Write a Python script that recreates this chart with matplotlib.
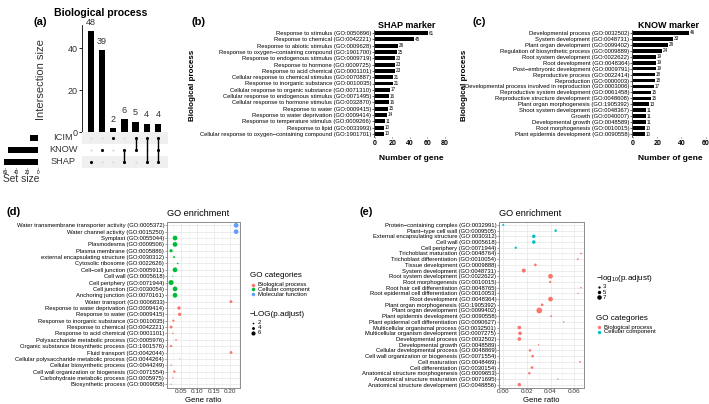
import matplotlib.pyplot as plt
import numpy as np

plt.rcParams['font.family'] = ['Liberation Sans', 'DejaVu Sans']
plt.rcParams['mathtext.default'] = 'regular'

W, H = 709, 404

# ---------------- data ----------------
# (a) upset plot
set_names = ['SHAP', 'KNOW', 'ICIM']          # bottom to top
set_sizes = [62, 54, 15]
inter_sizes = [48, 39, 2, 6, 5, 4, 4]
inter_members = [['SHAP'], ['KNOW'], ['ICIM'], ['KNOW', 'SHAP'],
                 ['ICIM', 'KNOW'], ['ICIM', 'SHAP'], ['ICIM', 'KNOW', 'SHAP']]

# (b) SHAP marker
shap_terms = ['Response to stimulus (GO:0050896)', 'Response to chemical (GO:0042221)',
              'Response to abiotic stimulus (GO:0009628)',
              'Response to oxygen\u2212containing compound (GO:1901700)',
              'Response to endogenous stimulus (GO:0009719)', 'Response to hormone (GO:0009725)',
              'Response to acid chemical (GO:0001101)',
              'Cellular response to chemical stimulus (GO:0070887)',
              'Response to inorganic substance (GO:0010035)',
              'Cellular response to organic substance (GO:0071310)',
              'Cellular response to endogenous stimulus (GO:0071495)',
              'Cellular response to hormone stimulus (GO:0032870)',
              'Response to water (GO:0009415)', 'Response to water deprivation (GO:0009414)',
              'Response to temperature stimulus (GO:0009266)', 'Response to lipid (GO:0033993)',
              'Cellular response to oxygen\u2212containing compound (GO:1901701)']
shap_counts = [61, 45, 26, 25, 23, 23, 23, 21, 21, 17, 16, 16, 15, 14, 11, 10, 10]

# (c) KNOW marker
know_terms = ['Developmental process (GO:0032502)', 'System development (GO:0048731)',
              'Plant organ development (GO:0099402)',
              'Regulation of biosynthetic process (GO:0009889)',
              'Root system development (GO:0022622)', 'Root development (GO:0048364)',
              'Post\u2212embryonic development (GO:0009791)', 'Reproductive process (GO:0022414)',
              'Reproduction (GO:0000003)',
              'Developmental process involved in reproduction (GO:0003006)',
              'Reproductive system development (GO:0061458)',
              'Reproductive structure development (GO:0048608)',
              'Plant organ morphogenesis (GO:1905392)', 'Shoot system development (GO:0048367)',
              'Growth (GO:0040007)', 'Developmental growth (GO:0048589)',
              'Root morphogenesis (GO:0010015)', 'Plant epidermis development (GO:0090558)']
know_counts = [46, 33, 29, 24, 19, 19, 19, 18, 18, 17, 15, 15, 13, 11, 11, 11, 10, 10]

# (d) GO enrichment, SHAP
d_terms = ['Water transmembrane transporter activity (GO:0005372)',
           'Water channel activity (GO:0015250)', 'Symplast (GO:0055044)',
           'Plasmodesma (GO:0009506)', 'Plasma membrane (GO:0005886)',
           'external encapsulating structure (GO:0030312)', 'Cytosolic ribosome (GO:0022626)',
           'Cell\u2212cell junction (GO:0005911)', 'Cell wall (GO:0005618)',
           'Cell periphery (GO:0071944)', 'Cell junction (GO:0030054)',
           'Anchoring junction (GO:0070161)', 'Water transport (GO:0006833)',
           'Response to water deprivation (GO:0009414)', 'Response to water (GO:0009415)',
           'Response to inorganic substance (GO:0010035)', 'Response to chemical (GO:0042221)',
           'Response to acid chemical (GO:0001101)',
           'Polysaccharide metabolic process (GO:0005976)',
           'Organic substance biosynthetic process (GO:1901576)',
           'Fluid transport (GO:0042044)',
           'Cellular polysaccharide metabolic process (GO:0044264)',
           'Cellular biosynthetic process (GO:0044249)',
           'Cell wall organization or biogenesis (GO:0071554)',
           'Carbohydrate metabolic process (GO:0005975)', 'Biosynthetic process (GO:0009058)']
d_ratio = [0.217, 0.217, 0.032, 0.032, 0.020, 0.029, 0.040, 0.032, 0.025, 0.020, 0.032, 0.032,
           0.2015, 0.044, 0.046, 0.027, 0.020, 0.025, 0.035, 0.020, 0.2015, 0.0465, 0.020,
           0.030, 0.025, 0.020]
d_logp = [7, 7, 7, 7, 4.5, 2.5, 2, 7, 1, 7.5, 7, 7, 4, 4.8, 4.8, 3, 4, 1.7, 2, 3, 4, 1,
          1.7, 3.2, 1.4, 1.4]
d_cat = ['MF', 'MF'] + ['CC'] * 10 + ['BP'] * 14

# (e) GO enrichment, KNOW
e_terms = ['Protein\u2212containing complex (GO:0032991)', 'Plant\u2212type cell wall (GO:0009505)',
           'External encapsulating structure (GO:0030312)', 'Cell wall (GO:0005618)',
           'Cell periphery (GO:0071944)', 'Trichoblast maturation (GO:0048764)',
           'Trichoblast differentiation (GO:0010054)', 'Tissue development (GO:0009888)',
           'System development (GO:0048731)', 'Root system development (GO:0022622)',
           'Root morphogenesis (GO:0010015)', 'Root hair cell differentiation (GO:0048765)',
           'Root epidermal cell differentiation (GO:0010053)', 'Root development (GO:0048364)',
           'Plant organ morphogenesis (GO:1905392)', 'Plant organ development (GO:0099402)',
           'Plant epidermis development (GO:0090558)',
           'Plant epidermal cell differentiation (GO:0090627)',
           'Multicellular organismal process (GO:0032501)',
           'Multicellular organism development (GO:0007275)',
           'Developmental process (GO:0032502)', 'Developmental growth (GO:0048589)',
           'Cellular developmental process (GO:0048869)',
           'Cell wall organization or biogenesis (GO:0071554)', 'Cell maturation (GO:0048469)',
           'Cell differentiation (GO:0030154)', 'Anatomical structure morphogenesis (GO:0009653)',
           'Anatomical structure maturation (GO:0071695)',
           'Anatomical structure development (GO:0048856)']
e_ratio = [0.0005, 0.0443, 0.026, 0.026, 0.0109, 0.0655, 0.0628, 0.0273, 0.0176, 0.040,
           0.0397, 0.0655, 0.063, 0.040, 0.033, 0.0306, 0.0405, 0.051, 0.0139, 0.0145,
           0.0139, 0.030, 0.0228, 0.025, 0.0647, 0.0245, 0.0223, 0.046, 0.0139]
e_logp = [2.5, 3.4, 5.2, 5.2, 3, 2, 2, 3.7, 6.1, 7.4, 2.8, 1.6, 1.2, 7.4, 3.7, 9.2, 2.1, 1.6,
          5.5, 5.5, 5.5, 1.2, 3.4, 3.7, 2, 3.7, 3.4, 1.4, 5.2]
e_cat = ['CC'] * 5 + ['BP'] * 24

d_colors = {'BP': '#F8766D', 'CC': '#00BA38', 'MF': '#619CFF'}
e_colors = {'BP': '#F8766D', 'CC': '#00BFC4'}


def box(x0, y0, x1, y1):
    return [x0 / W, 1 - y1 / H, (x1 - x0) / W, (y1 - y0) / H]


def dot_area(v, a, b):
    d_px = a + b * np.asarray(v)
    return (d_px * 0.72) ** 2


fig = plt.figure(figsize=(W / 100, H / 100), dpi=100)

# ---------------- (a) ----------------
ax = fig.add_axes(box(82, 25, 168, 132))
xs = np.arange(len(inter_sizes))
ax.bar(xs, inter_sizes, width=0.57, color='black')
for x, v in zip(xs, inter_sizes):
    ax.text(x, v + 2, str(v), ha='center', va='bottom', fontsize=6.5, color='#333333')
ax.set_xlim(-0.8, 6.9)
ax.set_ylim(0, 51)
for s in ['top', 'right', 'bottom']:
    ax.spines[s].set_visible(False)
ax.spines['left'].set_linewidth(0.6)
ax.set_xticks([])
ax.set_yticks([0, 20, 40])
ax.tick_params(axis='y', labelsize=6.5, length=2, width=0.6, pad=1, labelcolor='#333333')

axm = fig.add_axes(box(82, 132, 168, 168))
axm.axhspan(-0.5, 0.5, color='#f0f0f0', lw=0)
axm.axhspan(1.5, 2.5, color='#f0f0f0', lw=0)
gx, gy = np.meshgrid(xs, np.arange(3))
axm.scatter(gx.ravel(), gy.ravel(), s=3, color='#dcdcdc', lw=0)
for x, mem in zip(xs, inter_members):
    ys = [set_names.index(m) for m in mem]
    if len(ys) > 1:
        axm.plot([x, x], [min(ys), max(ys)], color='black', lw=1)
    axm.scatter([x] * len(ys), ys, s=5, color='black', lw=0, zorder=3)
axm.set_xlim(-0.8, 6.9)
axm.set_ylim(-0.5, 2.5)
axm.axis('off')

axs = fig.add_axes(box(0, 132, 38, 168))
axs.barh(np.arange(3), set_sizes, height=0.55, color='black')
axs.set_xlim(69, 0)
axs.set_ylim(-0.5, 2.5)
for s in ['top', 'right', 'left', 'bottom']:
    axs.spines[s].set_visible(False)
axs.set_yticks([])
axs.set_xticks([0, 20, 40, 60])
axs.tick_params(axis='x', labelsize=3.3, length=0.8, width=0.4, pad=0.3)

# ---------------- (b) and (c) ----------------
def hbar(rect, terms, counts, xlim, xticks):
    a = fig.add_axes(rect)
    y = np.arange(len(terms))
    a.barh(y, counts, height=0.62, color='black')
    for yi, v in zip(y, counts):
        a.text(v + 0.8 * (xlim[1] - xlim[0]) / 80, yi, str(v), va='center', fontsize=3.3)
    a.set_ylim(len(terms) - 0.5, -0.5)
    a.set_xlim(*xlim)
    a.set_yticks(y, terms)
    a.set_xticks(xticks)
    for s in ['top', 'right', 'bottom']:
        a.spines[s].set_visible(False)
    a.spines['left'].set_linewidth(0.5)
    a.tick_params(axis='y', labelsize=4.2, length=1.2, width=0.4, pad=0.8)
    a.tick_params(axis='x', labelsize=5, length=1, width=0.4, pad=1.5)
    for t in a.get_xticklabels():
        t.set_fontweight('bold')
    return a


hbar(box(374, 30, 447, 137), shap_terms, shap_counts, (-1.14, 82.3), [0, 20, 40, 60, 80])
hbar(box(632, 30, 709, 137), know_terms, know_counts, (-0.83, 62.7), [0, 20, 40, 60])

# ---------------- (d) and (e) ----------------
def dotplot(rect, terms, ratio, logp, cats, colors, xlim, xticks, xlabels, minor, size_ab):
    a = fig.add_axes(rect)
    y = np.arange(len(terms))
    a.scatter(ratio, y, s=dot_area(logp, *size_ab), c=[colors[c] for c in cats], lw=0, zorder=3)
    a.set_ylim(len(terms) - 0.45, -0.6)
    a.set_xlim(*xlim)
    a.set_yticks(y, terms)
    a.set_xticks(xticks, xlabels)
    a.set_xticks(minor, minor=True)
    a.grid(True, which='major', color='#e6e6e6', lw=0.5)
    a.grid(True, which='minor', axis='x', color='#f2f2f2', lw=0.4)
    a.set_axisbelow(True)
    for s in a.spines.values():
        s.set_color('#8c8c8c')
        s.set_linewidth(0.7)
    a.tick_params(axis='y', labelsize=4.2, length=1.2, width=0.4, pad=0.8, color='#555555')
    a.tick_params(axis='x', labelsize=4.6, length=1, width=0.4, pad=0, color='#555555',
                  labelcolor='#333333')
    a.tick_params(which='minor', length=0)
    return a


dotplot(box(167, 221.5, 240, 387.8), d_terms, d_ratio, d_logp, d_cat, d_colors,
        (0.0076, 0.2288), [0.05, 0.10, 0.15, 0.20], ['0.05', '0.10', '0.15', '0.20'],
        [0.025, 0.075, 0.125, 0.175, 0.225], (0.4, 0.62))
dotplot(box(499, 221.5, 584, 387.8), e_terms, e_ratio, e_logp, e_cat, e_colors,
        (-0.0031, 0.068), [0, 0.02, 0.04, 0.06], ['0.00', '0.02', '0.04', '0.06'],
        [0.01, 0.03, 0.05], (0.65, 0.55))

# ---------------- overlay: titles, labels, legends ----------------
ov = fig.add_axes([0, 0, 1, 1])
ov.set_xlim(0, W)
ov.set_ylim(H, 0)
ov.axis('off')

ov.text(101, 13, 'Biological process', ha='center', va='center', fontsize=7.6, fontweight='bold')
ov.text(40, 22, '(a)', ha='center', va='center', fontsize=8, fontweight='bold')
ov.text(41, 80, 'Intersection size', ha='center', va='center', rotation=90, fontsize=8,
        color='#333333')
for name, yy in zip(['ICIM', 'KNOW', 'SHAP'], [138, 150, 162]):
    ov.text(63, yy, name, ha='center', va='center', fontsize=6.7, color='#333333')
ov.text(21, 179.5, 'Set size', ha='center', va='center', fontsize=7.4, color='#333333')

ov.text(198, 22, '(b)', ha='center', va='center', fontsize=8, fontweight='bold')
ov.text(192, 85, 'Biological process', ha='center', va='center', rotation=90, fontsize=5.8,
        fontweight='bold')
ov.text(407, 25, 'SHAP marker', ha='center', va='center', fontsize=6.5, fontweight='bold')
ov.text(411, 158, 'Number of gene', ha='center', va='center', fontsize=6, fontweight='bold')

ov.text(479, 22, '(c)', ha='center', va='center', fontsize=8, fontweight='bold')
ov.text(465, 85, 'Biological process', ha='center', va='center', rotation=90, fontsize=5.8,
        fontweight='bold')
ov.text(669, 25, 'KNOW marker', ha='center', va='center', fontsize=6.5, fontweight='bold')
ov.text(670, 158, 'Number of gene', ha='center', va='center', fontsize=6, fontweight='bold')

ov.text(14, 212, '(d)', ha='center', va='center', fontsize=8, fontweight='bold')
ov.text(167, 214, 'GO enrichment', ha='left', va='center', fontsize=6.6)
ov.text(203.5, 404.3, 'Gene ratio', ha='center', va='bottom', fontsize=5.6)

ov.text(366, 212, '(e)', ha='center', va='center', fontsize=8, fontweight='bold')
ov.text(499, 214, 'GO enrichment', ha='left', va='center', fontsize=6.6)
ov.text(541.5, 404.3, 'Gene ratio', ha='center', va='bottom', fontsize=5.6)

# legend (d)
ov.text(250, 275.5, 'GO categories', ha='left', va='center', fontsize=5.8)
for (lab, key), yy in zip([('Biological process', 'BP'), ('Cellular component', 'CC'),
                           ('Molecular function', 'MF')], [284.5, 289.3, 294]):
    ov.scatter([253.3], [yy], s=dot_area(5, 0.4, 0.62), color=d_colors[key], lw=0)
    ov.text(257.5, yy, lab, ha='left', va='center', fontsize=4.3)
ov.text(250, 314, '\u2212LOG(p.adjust)', ha='left', va='center', fontsize=5.8)
for v, yy in zip([2, 4, 6], [322.5, 327.5, 332.5]):
    ov.scatter([253.3], [yy], s=dot_area(v, 0.4, 0.62), color='black', lw=0)
    ov.text(258, yy, str(v), ha='left', va='center', fontsize=4.3)

# legend (e)
ov.text(596, 278.5, '\u2212log$_{10}$(p.adjust)', ha='left', va='center', fontsize=5.8)
for v, yy in zip([3, 5, 7], [287, 292, 297.3]):
    ov.scatter([599], [yy], s=dot_area(v, 0.65, 0.55), color='black', lw=0)
    ov.text(603, yy, str(v), ha='left', va='center', fontsize=4.3)
ov.text(596, 318.7, 'GO categories', ha='left', va='center', fontsize=5.8)
for (lab, key), yy in zip([('Biological process', 'BP'), ('Cellular component', 'CC')],
                          [327.3, 332]):
    ov.scatter([599], [yy], s=dot_area(5, 0.65, 0.55), color=e_colors[key], lw=0)
    ov.text(603.5, yy, lab, ha='left', va='center', fontsize=4.3)

fig.savefig('out.png', dpi=100)
